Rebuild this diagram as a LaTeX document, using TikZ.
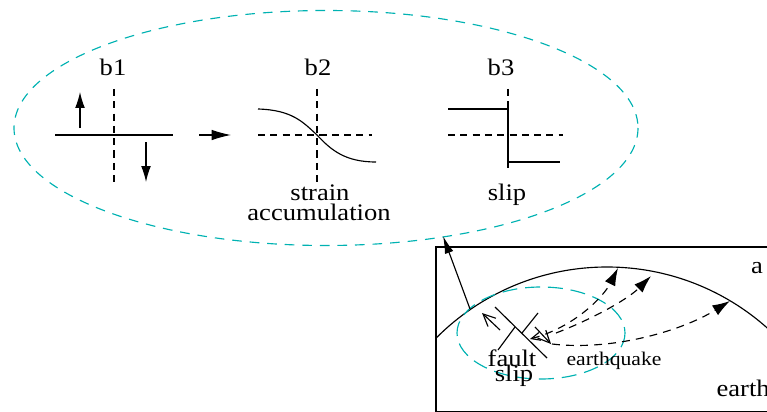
\documentclass[tikz,border=0pt]{standalone}
\usepackage{fontspec}
\setmainfont{Liberation Serif}[FakeStretch=1.12]
\usetikzlibrary{arrows.meta}
\definecolor{zoomcyan}{RGB}{0,178,178}

\begin{document}
\begin{tikzpicture}[x=0.02cm, y=-0.02cm, line width=0.65pt,
    guide/.style={dash pattern=on 4pt off 3pt},
    wave/.style={dash pattern=on 4.5pt off 3.5pt, -{Latex[length=10pt,width=6.5pt]}},
    zoomring/.style={zoomcyan, dash pattern=on 5.5pt off 4.5pt},
    lbl/.style={font=\fontsize{13.5}{11.4}\selectfont, inner sep=0pt, anchor=base},
    push/.style={-{Latex[length=9pt,width=5.5pt]}},
    barb/.style={-{Straight Barb[length=7pt,width=6.5pt]}}]

    \useasboundingbox (0,0) rectangle (767,412);

    % the three stages, seen close up
    \draw [zoomring] (326,128) ellipse [x radius=312, y radius=117.5];

    % b1: loading on both sides
    \node [lbl] (b1) at (113,75.7) {b1};
    \draw [guide] (114,89) -- (114,182);
    \draw (55,135) -- (173,135);
    \draw [push] (80,128) -- (80,92);
    \draw [push] (146,142) -- (146,182);

    \coordinate (stepL) at (199,135);
    \coordinate (stepR) at (231,135);
    \draw [-{Latex[length=11pt,width=6pt]}] (stepL) -- (stepR);

    % b2: bent profile
    \node [lbl] (b2) at (318,75.7) {b2};
    \draw [guide] (317,89) -- (317,182);
    \draw [guide] (258,135) -- (372,135);
    \draw (258,109) .. controls (292,110) and (303,122) .. (317,135)
        .. controls (331,150) and (345,162) .. (376,162);
    \node [lbl] (strain) at (320,200.7) {strain};
    \node [lbl] (accum) at (319,220.7) {accumulation};

    % b3: offset profile
    \node [lbl] (b3) at (501,75.7) {b3};
    \draw [guide] (508,89) -- (508,168);
    \draw [guide] (448,135) -- (563,135);
    \draw (448,109) -- (508,109) -- (508,162) -- (560,162);
    \node [lbl] (slipb) at (507,200) {slip};

    % crust section
    \draw (436,247) rectangle (800,411.5);
    \begin{scope}
        \clip (436,247) rectangle (800,411.5);
        \draw (607,508) circle [radius=241];
    \end{scope}
    \node [lbl] (a) at (757,273.3) {a};
    \node [lbl, anchor=base west] (earth) at (716,396.7) {earth};

    % focal region and pointer up to the close-up
    \draw [zoomcyan, dash pattern=on 8.5pt off 4.5pt] (541,333) ellipse [x radius=84, y radius=46];
    \coordinate (crust) at (470,309);
    \coordinate (ringbottom) at (443,236);
    \draw [-{Latex[length=10pt,width=5pt]}] (crust) -- (ringbottom);

    % fault, offset marker and slip arrows
    \draw (495,307) -- (547,358);
    \draw (498,350) -- (515,327);
    \draw (522,333) -- (538,313);
    \draw [barb] (500,330) -- (482,313);
    \draw [barb] (535,327) -- (551,344);

    % rays from the focus
    \draw [wave, {Straight Barb[length=5pt,width=4.5pt]}-{Latex[length=10pt,width=6.5pt]}]
        (530,339) .. controls (575,327) and (604,296) .. (618,268);
    \draw [wave] (556,333) .. controls (590,320) and (627,300) .. (651,276);
    \draw [wave] (552,344) .. controls (610,351) and (680,332) .. (730,301);

    \node [lbl] (fault) at (512,366) {fault};
    \node [lbl] (slipa) at (514,381.7) {slip};
    \node [lbl, font=\fontsize{11}{13}\selectfont, anchor=base west] (quake) at (566,365) {earthquake};
\end{tikzpicture}
\end{document}
